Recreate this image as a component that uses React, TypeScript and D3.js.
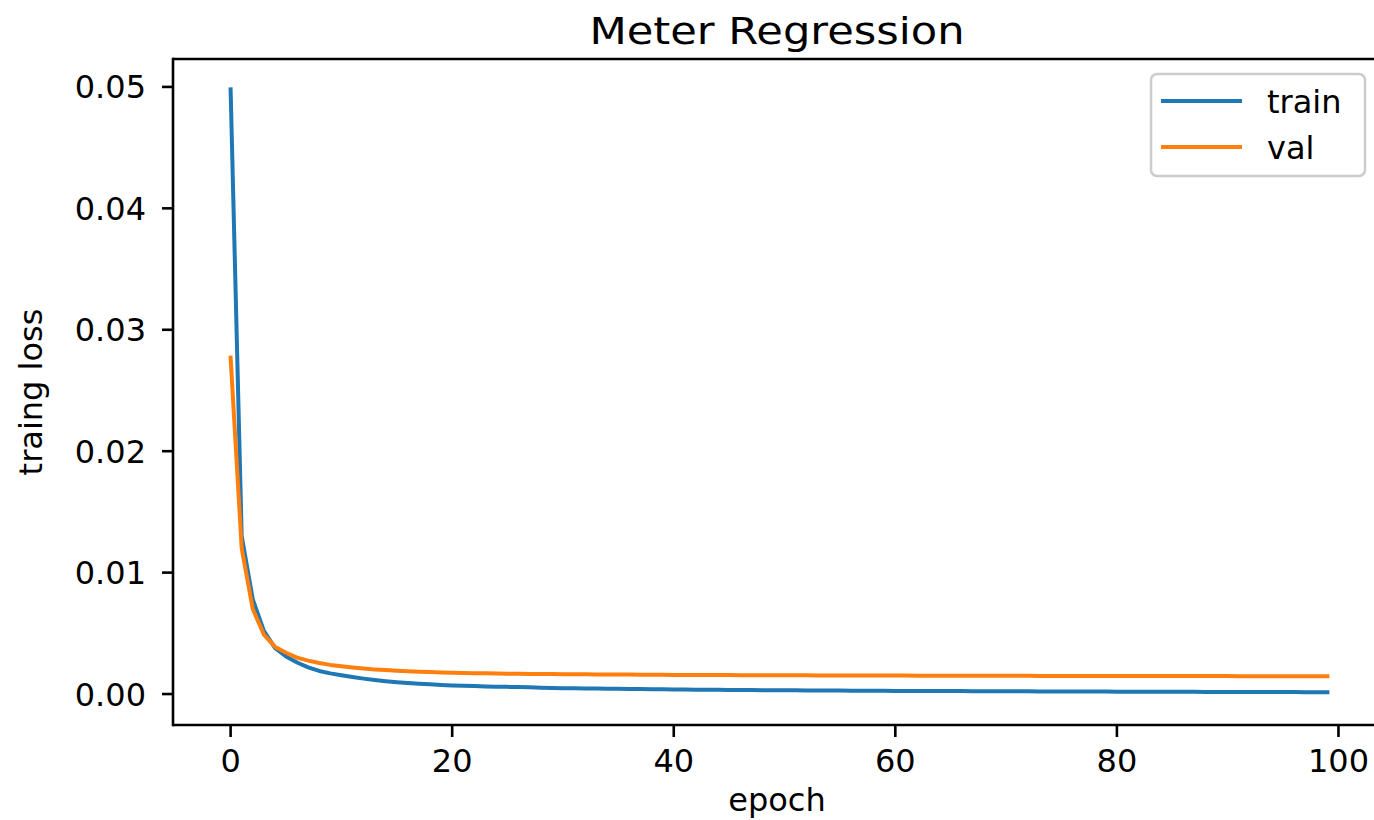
import React, { useEffect, useRef } from 'react';
import * as d3 from 'd3';

const epochs = d3.range(0, 100);

const trainLoss = [
  0.0498, 0.0130, 0.0078, 0.0052, 0.0038, 0.0031, 0.0026, 0.0022, 0.0019, 0.0017,
  0.00155, 0.0014, 0.00127, 0.00116, 0.00106, 0.00098, 0.00091, 0.00085, 0.0008, 0.00075,
  0.00071, 0.00068, 0.00066, 0.00063, 0.00061, 0.00059, 0.00057, 0.00055, 0.00052, 0.0005,
  0.00048, 0.00047, 0.00046, 0.00045, 0.00044, 0.00043, 0.00042, 0.00041, 0.0004, 0.00039,
  0.00038, 0.00037, 0.00036, 0.00036, 0.00035, 0.00034, 0.00034, 0.00033, 0.00032, 0.00032,
  0.00031, 0.00031, 0.0003, 0.0003, 0.00029, 0.00029, 0.00028, 0.00028, 0.00027, 0.00027,
  0.00026, 0.00026, 0.00025, 0.00025, 0.00025, 0.00024, 0.00024, 0.00023, 0.00023, 0.00023,
  0.00022, 0.00022, 0.00022, 0.00021, 0.00021, 0.00021, 0.0002, 0.0002, 0.0002, 0.0002,
  0.00019, 0.00019, 0.00019, 0.00018, 0.00018, 0.00018, 0.00018, 0.00018, 0.00017, 0.00017,
  0.00017, 0.00017, 0.00016, 0.00016, 0.00016, 0.00016, 0.00016, 0.00015, 0.00015, 0.00015,
];

const valLoss = [
  0.0277, 0.0120, 0.0070, 0.0049, 0.0039, 0.0034, 0.0030, 0.00275, 0.00255, 0.0024,
  0.00228, 0.00218, 0.0021, 0.00203, 0.00197, 0.00192, 0.00188, 0.00184, 0.00181, 0.00178,
  0.00176, 0.00174, 0.00172, 0.00171, 0.00169, 0.00168, 0.00167, 0.00166, 0.00165, 0.00164,
  0.00163, 0.00162, 0.00162, 0.00161, 0.00161, 0.0016, 0.0016, 0.00159, 0.00158, 0.00158,
  0.00157, 0.00157, 0.00157, 0.00156, 0.00156, 0.00156, 0.00155, 0.00155, 0.00155, 0.00154,
  0.00154, 0.00154, 0.00154, 0.00153, 0.00153, 0.00153, 0.00153, 0.00152, 0.00152, 0.00152,
  0.00152, 0.00152, 0.00151, 0.00151, 0.00151, 0.00151, 0.00151, 0.0015, 0.0015, 0.0015,
  0.0015, 0.0015, 0.0015, 0.00149, 0.00149, 0.00149, 0.00149, 0.00149, 0.00149, 0.00149,
  0.00149, 0.00148, 0.00148, 0.00148, 0.00148, 0.00148, 0.00148, 0.00148, 0.00148, 0.00148,
  0.00148, 0.00147, 0.00147, 0.00147, 0.00147, 0.00147, 0.00147, 0.00147, 0.00147, 0.00147,
];

const xTicks = [0, 20, 40, 60, 80, 100];
const yTicks = [0.0, 0.01, 0.02, 0.03, 0.04, 0.05];
const seriesNames = ['train', 'val'];
const colors = ['#1f77b4', '#ff7f0e'];

const App = () => {
  const svgRef = useRef<SVGSVGElement>(null);

  useEffect(() => {
    const svg = d3.select(svgRef.current);
    svg.selectAll('*').remove();

    const width = 1374;
    const height = 820;
    // right edge of the axes sits just past the picture's edge
    const box = { left: 173, right: 1385, top: 59, bottom: 725 };
    const font = 'DejaVu Sans, sans-serif';

    svg.append('rect').attr('width', width).attr('height', height).attr('fill', '#fff');

    const x = d3.scaleLinear().domain([-5.2, 104.2]).range([box.left, box.right]);
    const y = d3.scaleLinear().domain([-0.00255, 0.0523]).range([box.bottom, box.top]);

    const line = d3
      .line<number>()
      .x((d, i) => x(epochs[i]))
      .y((d) => y(d));

    [trainLoss, valLoss].forEach((s, k) => {
      svg
        .append('path')
        .datum(s)
        .attr('fill', 'none')
        .attr('stroke', colors[k])
        .attr('stroke-width', 4)
        .attr('stroke-linejoin', 'round')
        .attr('stroke-linecap', 'square')
        .attr('d', line);
    });

    // spines (left, top, bottom)
    const spine = svg.append('g').attr('stroke', '#000').attr('stroke-width', 2.6);
    spine.append('line')
      .attr('x1', box.left).attr('x2', box.left)
      .attr('y1', box.top - 1.3).attr('y2', box.bottom + 1.3);
    spine.append('line')
      .attr('x1', box.left).attr('x2', width)
      .attr('y1', box.top).attr('y2', box.top);
    spine.append('line')
      .attr('x1', box.left).attr('x2', width)
      .attr('y1', box.bottom).attr('y2', box.bottom);

    // x ticks
    const xt = svg.append('g');
    xTicks.forEach((t) => {
      xt.append('line')
        .attr('x1', x(t)).attr('x2', x(t))
        .attr('y1', box.bottom).attr('y2', box.bottom + 12)
        .attr('stroke', '#000').attr('stroke-width', 2.6);
      xt.append('text')
        .attr('x', x(t)).attr('y', 772)
        .attr('text-anchor', 'middle')
        .attr('font-family', font).attr('font-size', 32)
        .text(d3.format('d')(t));
    });

    // y ticks
    const yt = svg.append('g');
    yTicks.forEach((t) => {
      yt.append('line')
        .attr('x1', box.left - 11).attr('x2', box.left)
        .attr('y1', y(t)).attr('y2', y(t))
        .attr('stroke', '#000').attr('stroke-width', 2.6);
      yt.append('text')
        .attr('x', 146).attr('y', y(t)).attr('dy', '0.36em')
        .attr('text-anchor', 'end')
        .attr('font-family', font).attr('font-size', 32)
        .text(d3.format('.2f')(t));
    });

    svg.append('text')
      .attr('x', (box.left + box.right) / 2 - 2).attr('y', 44)
      .attr('text-anchor', 'middle')
      .attr('font-family', font).attr('font-size', 38)
      .attr('textLength', 375).attr('lengthAdjust', 'spacingAndGlyphs')
      .text('Meter Regression');

    svg.append('text')
      .attr('x', 777).attr('y', 811)
      .attr('text-anchor', 'middle')
      .attr('font-family', font).attr('font-size', 32)
      .text('epoch');

    svg.append('text')
      .attr('transform', `translate(42,${(box.top + box.bottom) / 2}) rotate(-90)`)
      .attr('text-anchor', 'middle')
      .attr('font-family', font).attr('font-size', 32)
      .text('traing loss');

    // legend
    const lg = svg.append('g');
    lg.append('rect')
      .attr('x', 1151).attr('y', 74)
      .attr('width', 214).attr('height', 102)
      .attr('rx', 6)
      .attr('fill', 'rgba(255,255,255,0.8)')
      .attr('stroke', '#cccccc').attr('stroke-width', 2.5);
    seriesNames.forEach((name, k) => {
      const ly = 101 + k * 46;
      lg.append('line')
        .attr('x1', 1161).attr('x2', 1242)
        .attr('y1', ly).attr('y2', ly)
        .attr('stroke', colors[k]).attr('stroke-width', 4);
      lg.append('text')
        .attr('x', 1267).attr('y', ly).attr('dy', '0.36em')
        .attr('font-family', font).attr('font-size', 32)
        .text(name);
    });
  }, []);

  return (
    <svg
      ref={svgRef}
      width={1374}
      height={820}
      style={{ position: 'absolute', left: 0, top: 0 }}
    />
  );
};

export default App;
